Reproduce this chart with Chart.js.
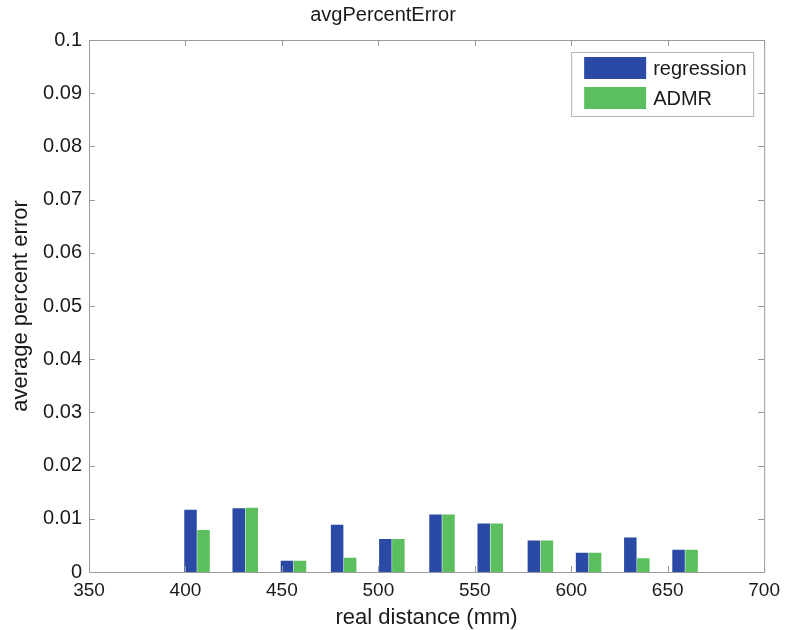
<!DOCTYPE html>
<html>
<head>
<meta charset="utf-8">
<script src="https://cdn.jsdelivr.net/npm/chart.js"></script>
<style>
  html, body { margin: 0; padding: 0; background: #fff; }
  #wrap { width: 787px; height: 630px; }
</style>
</head>
<body>
<div id="wrap"><canvas id="myChart" width="787" height="630"></canvas></div>
<script>
// values
var distances = [406, 431, 456, 482, 507, 533, 558, 584, 609, 634, 659];
var regression = [0.0117, 0.0120, 0.0021, 0.0089, 0.0062, 0.0108, 0.0091, 0.0059, 0.0036, 0.0065, 0.0042];
var admr = [0.0079, 0.0121, 0.0021, 0.0027, 0.0062, 0.0108, 0.0091, 0.0059, 0.0036, 0.0026, 0.0042];
var xTicks = [350, 400, 450, 500, 550, 600, 650, 700];
var yTicks = [0, 0.01, 0.02, 0.03, 0.04, 0.05, 0.06, 0.07, 0.08, 0.09, 0.1];

var FONT = "'Liberation Sans', Arial, sans-serif";
var AXIS = '#9a9a9a';
var TEXT = '#1a1a1a';

function points(ys) {
    return distances.map(function (x, i) { return { x: x, y: ys[i] }; });
}

// matlab style box: inward ticks on all four sides + legend inside top right
var matlabBox = {
    id: 'matlabBox',
    afterDraw: function (chart) {
        var c = chart.ctx, a = chart.chartArea;
        var xs = chart.scales.x, ys = chart.scales.y;
        c.save();
        c.strokeStyle = AXIS;
        c.lineWidth = 1;
        c.strokeRect(a.left + 0.5, a.top + 0.5, a.right - a.left, a.bottom - a.top);
        c.beginPath();
        yTicks.forEach(function (v) {
            var y = Math.round(ys.getPixelForValue(v)) + 0.5;
            c.moveTo(a.left, y); c.lineTo(a.left + 6, y);
            c.moveTo(a.right, y); c.lineTo(a.right - 6, y);
        });
        xTicks.forEach(function (v) {
            var x = Math.round(xs.getPixelForValue(v)) + 0.5;
            c.moveTo(x, a.bottom); c.lineTo(x, a.bottom - 6);
            c.moveTo(x, a.top); c.lineTo(x, a.top + 6);
        });
        c.stroke();

        // legend
        var bx = a.right - 193, by = a.top + 12, bw = 182, bh = 64;
        c.fillStyle = '#fff';
        c.fillRect(bx, by, bw, bh);
        c.strokeStyle = '#b5b5b5';
        c.strokeRect(bx + 0.5, by + 0.5, bw, bh);
        c.font = '20px ' + FONT;
        c.textBaseline = 'middle';
        chart.data.datasets.forEach(function (ds, i) {
            var sy = by + 5 + i * 30;
            c.fillStyle = ds.backgroundColor;
            c.fillRect(bx + 13, sy, 62, 22);
            c.fillStyle = TEXT;
            c.fillText(ds.label, bx + 82, sy + 12);
        });
        c.restore();
    }
};

var ctx = document.getElementById('myChart').getContext('2d');

var myChart = new Chart(ctx, {
    type: 'bar',
    data: {
        datasets: [{
            label: 'regression',
            data: points(regression),
            backgroundColor: '#2b4aa6',
            categoryPercentage: 0.54,
            barPercentage: 0.96
        }, {
            label: 'ADMR',
            data: points(admr),
            backgroundColor: '#5cbf5f',
            categoryPercentage: 0.54,
            barPercentage: 0.96
        }]
    },
    options: {
        responsive: false,
        animation: false,
        layout: { padding: { right: 21 } },
        plugins: {
            legend: { display: false },
            tooltip: { enabled: false },
            title: {
                display: true,
                text: 'avgPercentError',
                color: TEXT,
                font: { family: FONT, size: 20, weight: 'normal' },
                padding: { top: 3, bottom: 13 }
            }
        },
        scales: {
            x: {
                type: 'linear',
                min: 350,
                max: 700,
                offset: false,
                afterBuildTicks: function (s) { s.ticks = xTicks.map(function (v) { return { value: v }; }); },
                afterFit: function (s) { s.height = 58; },
                grid: { display: false, drawTicks: false, offset: false },
                border: { display: false },
                ticks: {
                    color: TEXT,
                    padding: 7,
                    maxRotation: 0,
                    font: { family: FONT, size: 19 },
                    callback: function (v) { return String(v); }
                },
                title: {
                    display: true,
                    text: 'real distance (mm)',
                    color: TEXT,
                    font: { family: FONT, size: 22 },
                    padding: { top: 0, bottom: -1 }
                }
            },
            y: {
                min: 0,
                max: 0.1,
                afterBuildTicks: function (s) { s.ticks = yTicks.map(function (v) { return { value: v }; }); },
                afterFit: function (s) { s.width = 89; },
                grid: { display: false, drawTicks: false },
                border: { display: false },
                ticks: {
                    color: TEXT,
                    padding: 7,
                    font: { family: FONT, size: 20 },
                    callback: function (v) { return String(v); }
                },
                title: {
                    display: true,
                    text: 'average percent error',
                    color: TEXT,
                    font: { family: FONT, size: 22 },
                    padding: { top: 8, bottom: 0 }
                }
            }
        }
    },
    plugins: [matlabBox]
});
</script>
</body>
</html>
